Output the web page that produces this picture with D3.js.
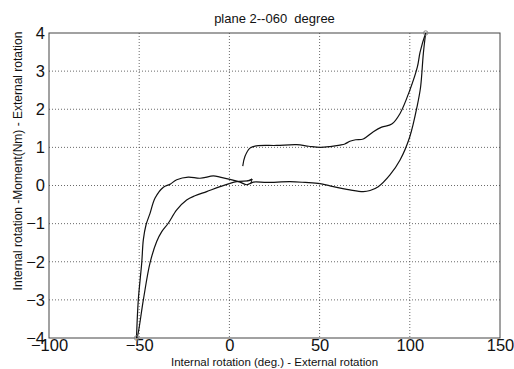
<!DOCTYPE html>
<html>
<head>
<meta charset="utf-8">
<script src="https://cdn.jsdelivr.net/npm/d3@7"></script>
<style>
  body { margin: 0; background: #fff; }
  svg { display: block; font-family: "Liberation Sans", Arial, sans-serif; }
</style>
</head>
<body>
<div class="chart"></div>
<script>
// tick values
const xTicks = [-100, -50, 0, 50, 100, 150];
const yTicks = [-4, -3, -2, -1, 0, 1, 2, 3, 4];

// start at the arrow tail, load up to the top
const loadUp = [[7.4,0.51],[8.6,0.76],[11.4,0.98],[15.1,1.04],[26.2,1.05],[37.3,1.07],[44,1.03],[50.2,1.0],
  [55.8,1.02],[61.3,1.06],[64,1.09],[66.8,1.16],[70,1.2],[74.2,1.22],[79.8,1.41],[84.4,1.53],[90,1.61],
  [94.6,1.89],[100,2.5],[104.2,3.11],[105.7,3.5],[108.8,4.0]];
// coming back down and across to the far left
const unloadDown = [[108.8,4.0],[107.5,3.46],[106,2.59],[104.2,2.11],[100,1.28],[94.6,0.67],[89,0.28],[82.5,-0.03],
  [78,-0.13],[74.2,-0.16],[66.8,-0.115],[55.8,-0.01],[50.2,0.05],[42,0.08],[33.6,0.1],[20.7,0.08],[13.3,0.09],
  [9.6,0.02],[5.9,0.09],[0.3,0.16],[-5.2,0.22],[-8.9,0.25],[-16.3,0.19],[-22.8,0.22],[-29.2,0.15],[-33,0.03],
  [-36.6,-0.045],[-41.2,-0.33],[-44,-0.73],[-46.2,-1.03],[-47.7,-1.42],[-48.6,-2.03],[-50.5,-3.0],[-51.5,-4.0]];
// back up to the arrow head
const returnUp = [[-51.5,-4.0],[-51,-3.96],[-47.7,-3.0],[-44,-2.03],[-40.3,-1.47],[-37.5,-1.21],[-33.9,-0.99],
  [-29.2,-0.64],[-23.7,-0.38],[-19.1,-0.27],[-12.6,-0.16],[-5.2,-0.03],[4,0.1],[11.4,0.13],[12.6,0.17]];
const endPoints = [[108.8,4.0],[-51.5,-4.0]];

const width = 514, height = 369;
const margin = {top: 33, right: 14, bottom: 31, left: 49};

const svg = d3.select(".chart").append("svg")
  .attr("width", width)
  .attr("height", height);

const x = d3.scaleLinear().domain([-100, 150]).range([margin.left, width - margin.right]);
const y = d3.scaleLinear().domain([-4, 4]).range([height - margin.bottom, margin.top]);

// grid
const grid = svg.append("g").attr("stroke", "#444").attr("stroke-width", 0.8).attr("stroke-dasharray", "1,2");
grid.selectAll(".gx").data(xTicks.slice(1, -1)).enter().append("line")
  .attr("x1", d => x(d)).attr("x2", d => x(d))
  .attr("y1", y(4)).attr("y2", y(-4));
grid.selectAll(".gy").data(yTicks.slice(1, -1)).enter().append("line")
  .attr("x1", x(-100)).attr("x2", x(150))
  .attr("y1", d => y(d)).attr("y2", d => y(d));

// axes
const xAxis = svg.append("g")
  .attr("transform", `translate(0,${y(-4)})`)
  .call(d3.axisBottom(x).tickValues(xTicks).tickSize(0).tickPadding(1).tickFormat(d3.format("d")));
const yAxis = svg.append("g")
  .attr("transform", `translate(${x(-100)},0)`)
  .call(d3.axisLeft(y).tickValues(yTicks).tickSize(0).tickPadding(4).tickFormat(d3.format("d")));
[xAxis, yAxis].forEach(a => {
  a.select(".domain").remove();
  a.selectAll("text").attr("font-size", 16.5).attr("fill", "#111")
    .attr("font-family", "Liberation Sans, Arial, sans-serif");
});

svg.append("rect")
  .attr("x", x(-100)).attr("y", y(4))
  .attr("width", x(150) - x(-100)).attr("height", y(-4) - y(4))
  .attr("fill", "none").attr("stroke", "#444").attr("stroke-width", 1);

// arrowhead
svg.append("defs").append("marker")
  .attr("id", "arr").attr("viewBox", "0 0 10 10")
  .attr("refX", 9).attr("refY", 5)
  .attr("markerWidth", 5).attr("markerHeight", 5)
  .attr("orient", "auto")
  .append("path").attr("d", "M1,1 L9,5 L1,9")
  .attr("fill", "none").attr("stroke", "#111").attr("stroke-width", 1.6);

const line = d3.line().x(d => x(d[0])).y(d => y(d[1])).curve(d3.curveCatmullRom.alpha(0.5));

svg.selectAll(".curve").data([loadUp, unloadDown, returnUp]).enter().append("path")
  .attr("class", "curve")
  .attr("d", line)
  .attr("fill", "none")
  .attr("stroke", "#111")
  .attr("stroke-width", 1.2)
  .attr("marker-end", (d, i) => i === 2 ? "url(#arr)" : null);

svg.selectAll(".end").data(endPoints).enter().append("circle")
  .attr("cx", d => x(d[0])).attr("cy", d => y(d[1])).attr("r", 2.2)
  .attr("fill", "none").attr("stroke", "#888").attr("stroke-width", 1);

// titles
svg.append("text")
  .attr("x", (x(-100) + x(150)) / 2).attr("y", 23)
  .attr("text-anchor", "middle").attr("font-size", 13).attr("fill", "#111")
  .attr("xml:space", "preserve")
  .text("plane 2--060  degree");

svg.append("text")
  .attr("x", (x(-100) + x(150)) / 2).attr("y", 366)
  .attr("text-anchor", "middle").attr("font-size", 11.5).attr("fill", "#111")
  .text("Internal rotation (deg.) - External rotation");

svg.append("text")
  .attr("transform", "translate(22,161) rotate(-90)")
  .attr("text-anchor", "middle").attr("font-size", 12).attr("fill", "#111")
  .text("Internal rotation -Moment(Nm) - External rotation");
</script>
</body>
</html>
